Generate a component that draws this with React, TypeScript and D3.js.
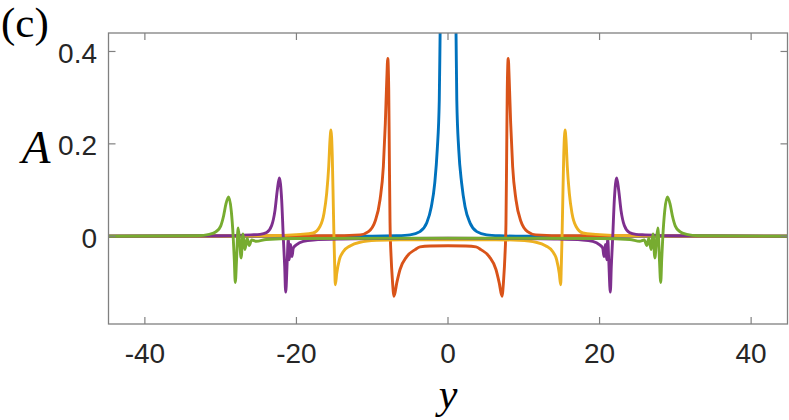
import React from 'react';
import * as d3 from 'd3';

// values, [y, A]
const blue: [number, number][] = [
  [-44.8, 0], [-10, 0], [-6.8, 0.001], [-5.0, 0.003], [-3.7, 0.010], [-2.8, 0.029],
  [-2.2, 0.064], [-1.75, 0.115], [-1.42, 0.187], [-1.15, 0.295], [-1.04, 0.44],
  [-0.85, 0.65], [-0.5, 1.0], [0, 1.2], [0.5, 1.0], [0.85, 0.65], [1.06, 0.44],
  [1.16, 0.295], [1.42, 0.187], [1.8, 0.115], [2.25, 0.064], [2.9, 0.029],
  [3.8, 0.010], [5.1, 0.003], [6.8, 0.001], [10, 0], [44.8, 0],
];

const orange: [number, number][] = [
  [-44.8, 0], [-16, 0.001], [-11.6, 0.003], [-10.5, 0.01], [-9.63, 0.032], [-8.97, 0.079],
  [-8.53, 0.151], [-8.27, 0.245], [-8.08, 0.338], [-7.95, 0.385], [-7.82, 0.317],
  [-7.74, 0.173], [-7.65, 0.029], [-7.51, -0.044], [-7.34, -0.094], [-7.12, -0.130],
  [-6.76, -0.101], [-6.33, -0.072], [-5.44, -0.044], [-4.35, -0.029], [-3.69, -0.023],
  [-2.36, -0.021], [0, -0.0205],
  [2.36, -0.021], [3.69, -0.023], [4.35, -0.029], [5.44, -0.044], [6.33, -0.072],
  [6.76, -0.101], [7.12, -0.130], [7.34, -0.094], [7.51, -0.044], [7.65, 0.029],
  [7.74, 0.173], [7.82, 0.317], [7.95, 0.385], [8.08, 0.338], [8.27, 0.245],
  [8.53, 0.151], [8.97, 0.079], [9.63, 0.032], [10.5, 0.01], [11.6, 0.003], [16, 0.001], [44.8, 0],
];

const yellow: [number, number][] = [
  [-44.8, 0], [-24, 0.001], [-19.5, 0.004], [-17.8, 0.007], [-16.9, 0.021], [-16.36, 0.05],
  [-16.01, 0.093], [-15.74, 0.151], [-15.57, 0.209], [-15.44, 0.23], [-15.27, 0.173],
  [-15.13, 0.064], [-15.04, -0.008], [-14.95, -0.065], [-14.87, -0.105], [-14.68, -0.080],
  [-14.34, -0.051], [-13.81, -0.033], [-12.93, -0.021], [-11.61, -0.013], [-9.4, -0.009],
  [-6.33, -0.0076], [0, -0.0076],
  [6.33, -0.0076], [9.4, -0.009], [11.61, -0.013], [12.93, -0.021], [13.81, -0.033],
  [14.34, -0.051], [14.68, -0.080], [14.87, -0.105], [14.95, -0.065], [15.04, -0.008],
  [15.13, 0.064], [15.27, 0.173], [15.44, 0.23], [15.57, 0.209], [15.74, 0.151],
  [16.01, 0.093], [16.36, 0.05], [16.9, 0.021], [17.8, 0.007], [19.5, 0.004], [24, 0.001], [44.8, 0],
];

const purple: [number, number][] = [
  [-44.8, 0], [-30, 0.001], [-26, 0.003], [-24.8, 0.004], [-23.93, 0.008], [-23.27, 0.023],
  [-22.83, 0.056], [-22.53, 0.099], [-22.26, 0.126], [-21.95, 0.079], [-21.74, 0],
  [-21.55, -0.065], [-21.42, -0.121], [-21.21, -0.051], [-21.08, -0.006], [-20.94, -0.051],
  [-20.76, -0.018], [-20.59, -0.044], [-20.42, -0.026], [-19.97, -0.018], [-19.1, -0.011],
  [-17.77, -0.008], [-14, -0.006], [-8, -0.005], [0, -0.004],
  [8, -0.005], [14, -0.006], [17.77, -0.008], [19.1, -0.011], [19.97, -0.018],
  [20.42, -0.026], [20.59, -0.044], [20.76, -0.018], [20.94, -0.051], [21.08, -0.006],
  [21.21, -0.051], [21.42, -0.121], [21.55, -0.065], [21.74, 0], [21.95, 0.079],
  [22.26, 0.126], [22.53, 0.099], [22.83, 0.056], [23.27, 0.023], [23.93, 0.008],
  [24.8, 0.004], [26, 0.003], [30, 0.001], [44.8, 0],
];

const green: [number, number][] = [
  [-44.8, 0], [-33, 0.001], [-31.5, 0.004], [-30.6, 0.01], [-30.0, 0.022], [-29.6, 0.045],
  [-29.3, 0.07], [-28.95, 0.085], [-28.6, 0.055], [-28.35, 0], [-28.2, -0.05],
  [-28.07, -0.1], [-27.9, -0.05], [-27.7, 0.018], [-27.5, -0.01], [-27.3, -0.047],
  [-27.05, 0.005], [-26.8, -0.029], [-26.5, -0.004], [-26.25, -0.02], [-25.9, -0.008],
  [-25.3, -0.011], [-24, -0.007], [-20, -0.005], [0, -0.004],
  [20, -0.005], [24, -0.007], [25.3, -0.011], [25.9, -0.008], [26.25, -0.02],
  [26.5, -0.004], [26.8, -0.029], [27.05, 0.005], [27.3, -0.047], [27.5, -0.01],
  [27.7, 0.018], [27.9, -0.05], [28.07, -0.1], [28.2, -0.05], [28.35, 0], [28.6, 0.055],
  [28.95, 0.085], [29.3, 0.07], [29.6, 0.045], [30.0, 0.022], [30.6, 0.01], [31.5, 0.004],
  [33, 0.001], [44.8, 0],
];

const series = [
  { data: blue, color: '#0072BD' },
  { data: orange, color: '#D95319' },
  { data: yellow, color: '#EDB120' },
  { data: purple, color: '#7E2F8E' },
  { data: green, color: '#77AC30' },
];

const xTicks = [-40, -20, 0, 20, 40];
const yTicks = [0, 0.2, 0.4];
const yTickLabels = ['0', '0.2', '0.4'];

const W = 789;
const H = 420;
const left = 108.5, right = 787.5, top = 33, bottom = 324;

export default function App() {
  const x = d3.scaleLinear().domain([-44.8, 44.8]).range([left, right]);
  const y = d3.scaleLinear().domain([-0.19, 0.44]).range([bottom, top]);

  const line = d3.line<[number, number]>()
    .x(d => x(d[0]))
    .y(d => y(d[1]))
    .curve(d3.curveMonotoneX);

  const axisColor = '#808080';
  const tickLen = 7;

  return (
    <svg width={W} height={H} style={{ position: 'absolute', left: 0, top: 0, background: '#fff' }}>
      <defs>
        <clipPath id="plot">
          <rect x={left} y={top} width={right - left} height={bottom - top} />
        </clipPath>
      </defs>

      <g clipPath="url(#plot)" fill="none" strokeWidth={2.9} strokeLinejoin="round">
        {series.map((s, i) => (
          <path key={i} d={line(s.data) || ''} stroke={s.color} />
        ))}
      </g>

      {/* box and ticks */}
      <rect x={left} y={top} width={right - left} height={bottom - top}
        fill="none" stroke={axisColor} strokeWidth={1.3} />
      {xTicks.map(t => (
        <g key={'x' + t} stroke={axisColor} strokeWidth={1.2}>
          <line x1={x(t)} x2={x(t)} y1={bottom} y2={bottom - tickLen} />
          <line x1={x(t)} x2={x(t)} y1={top} y2={top + tickLen} />
        </g>
      ))}
      {yTicks.map(t => (
        <g key={'y' + t} stroke={axisColor} strokeWidth={1.2}>
          <line x1={left} x2={left + tickLen} y1={y(t)} y2={y(t)} />
          <line x1={right} x2={right - tickLen} y1={y(t)} y2={y(t)} />
        </g>
      ))}

      <g fontFamily="'Liberation Sans', Arial, sans-serif" fontSize={28} fill="#262626">
        {xTicks.map(t => (
          <text key={'xl' + t} x={x(t)} y={363} textAnchor="middle">{t < 0 ? '-' + Math.abs(t) : String(t)}</text>
        ))}
        {yTicks.map((t, i) => (
          <text key={'yl' + t} x={97} y={y(t) + 11.5} textAnchor="end">{yTickLabels[i]}</text>
        ))}
      </g>

      <g fontFamily="'Liberation Serif', 'Times New Roman', serif" fill="#000">
        <text x={36} y={163} fontSize={47} fontStyle="italic" textAnchor="middle">A</text>
        <text x={448} y={408} fontSize={42} fontStyle="italic" textAnchor="middle">y</text>
        <text x={1} y={37} fontSize={43}>(c)</text>
      </g>
    </svg>
  );
}
